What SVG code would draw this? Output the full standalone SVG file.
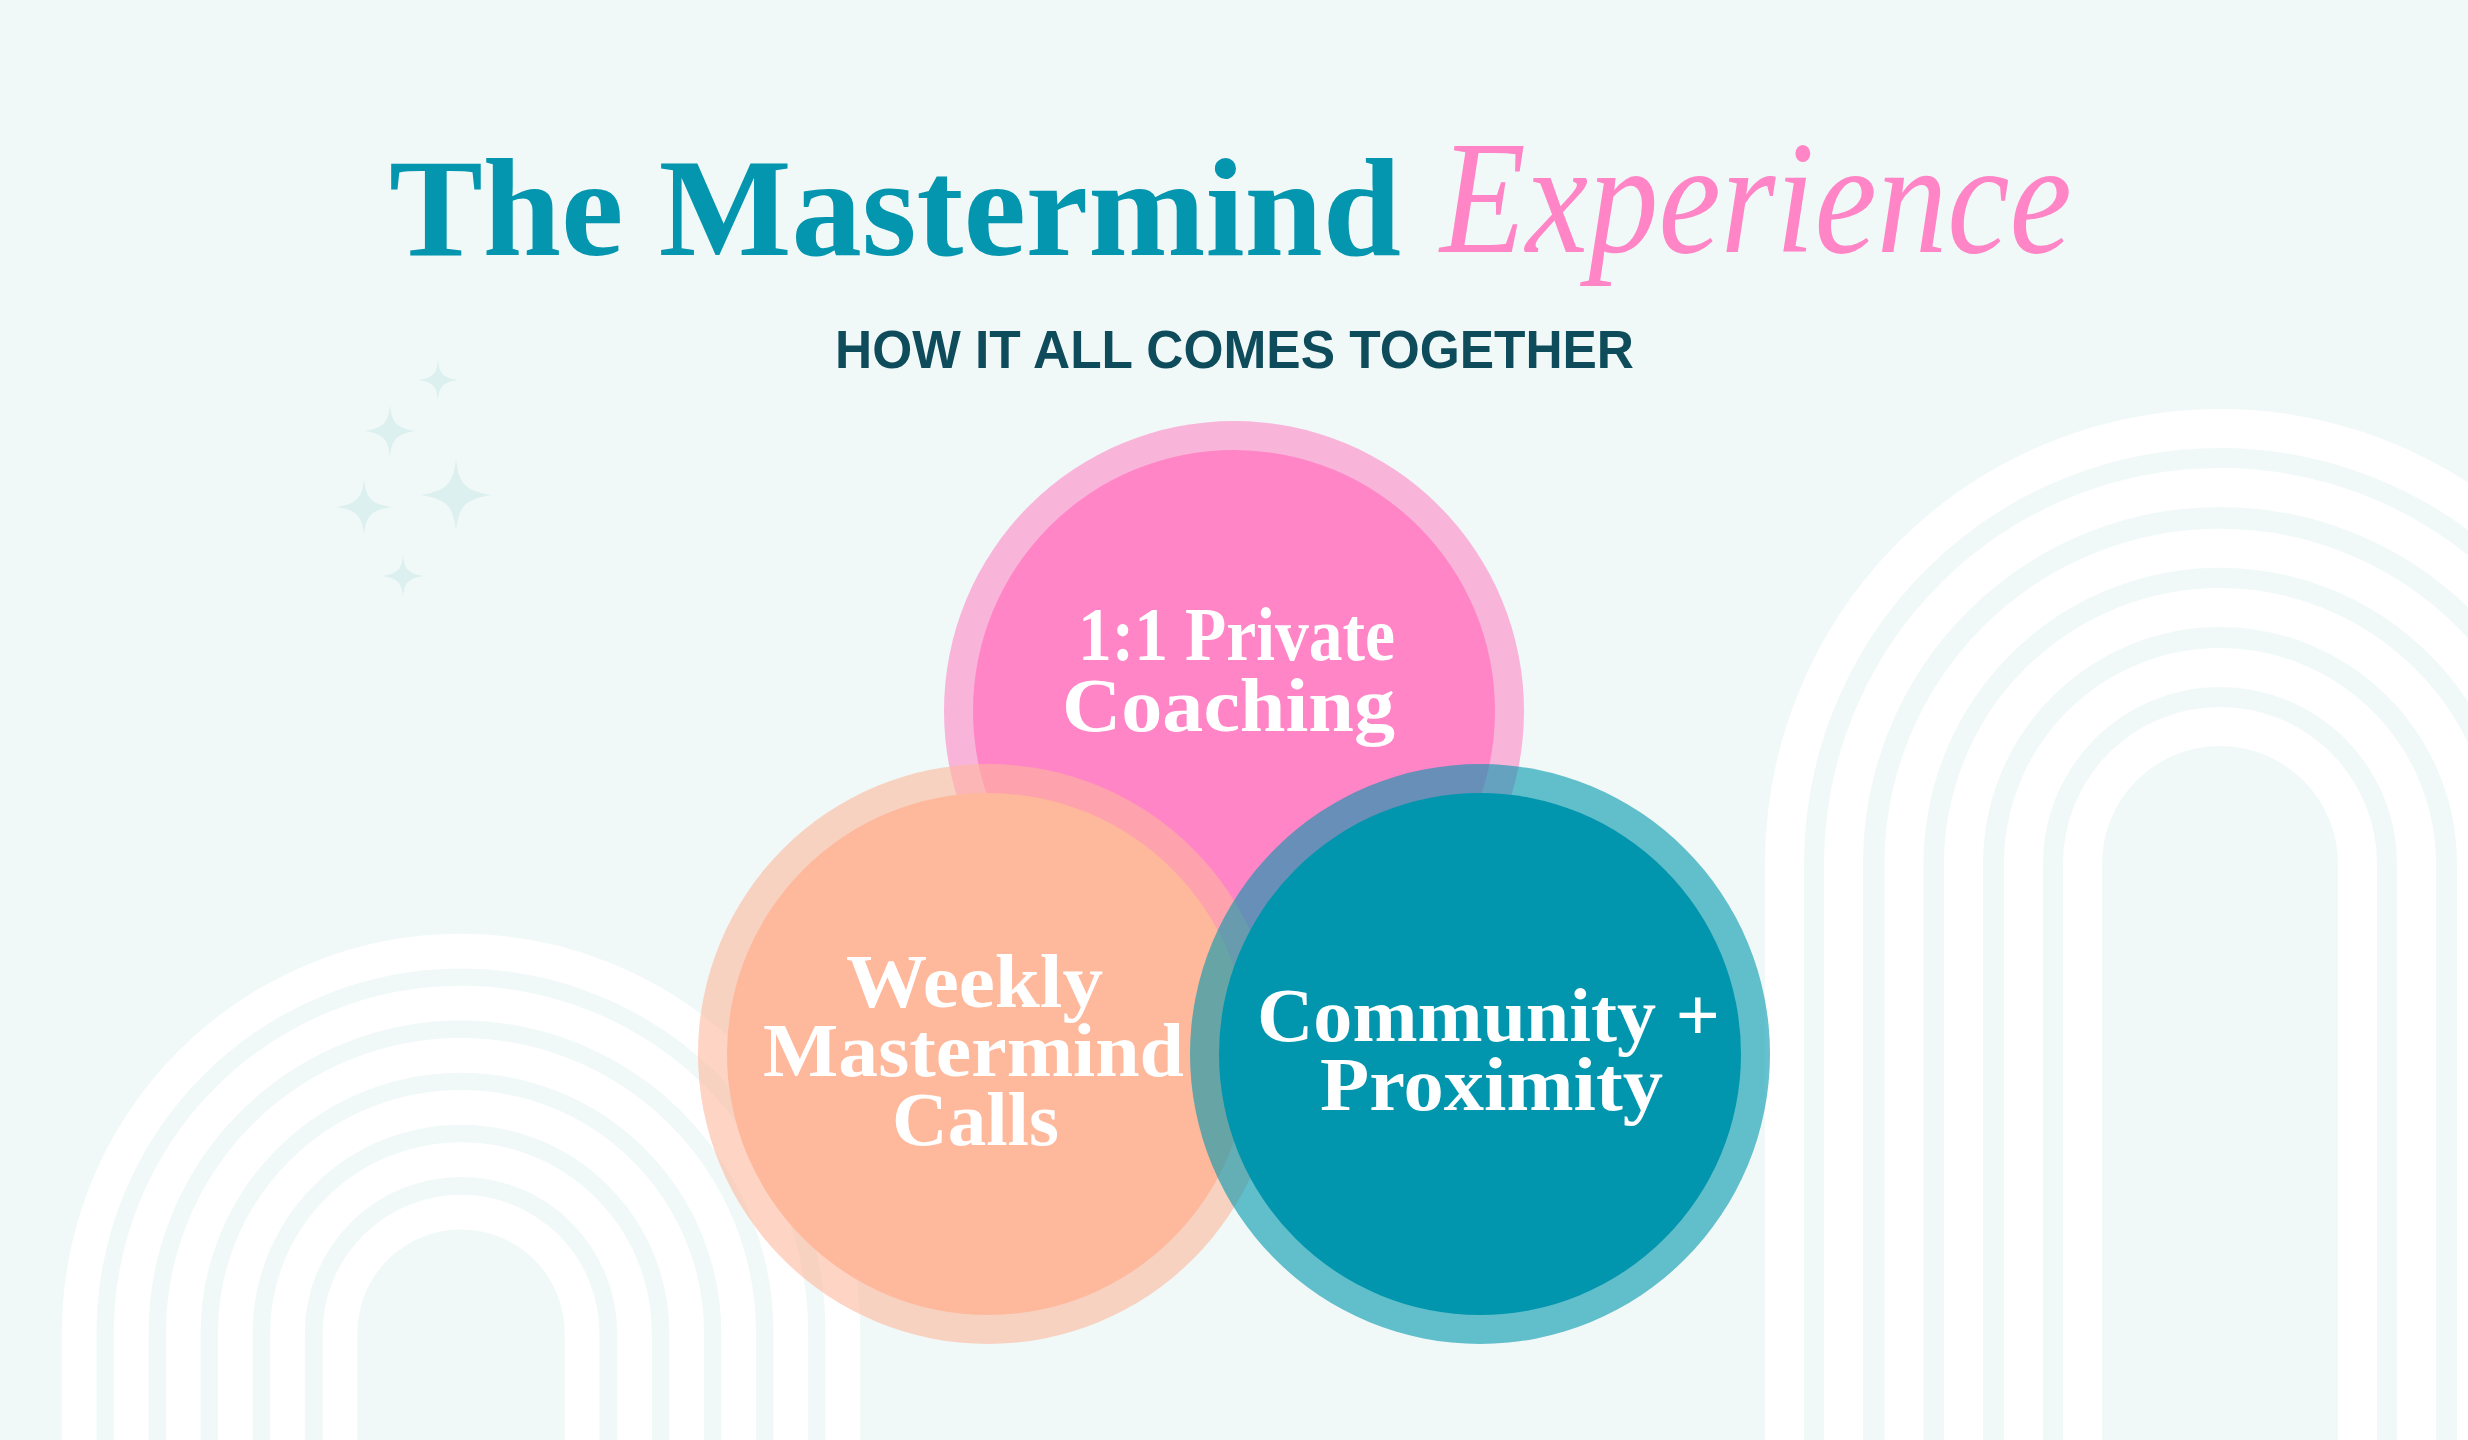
<svg xmlns="http://www.w3.org/2000/svg" xmlns:xlink="http://www.w3.org/1999/xlink" width="2468" height="1440" viewBox="0 0 2468 1440">
<defs>
<style>
.bg{fill:#F1F9F8}
.archR{fill:none;stroke:#FFFFFF;stroke-width:39}
.archL{fill:none;stroke:#FFFFFF;stroke-width:34.7}
.spark{fill:#DCF0EF}
.lbl{font-family:"Liberation Serif",serif;font-weight:700;font-size:76px;fill:#FFFFFF}
.title{font-family:"Liberation Serif",serif;font-weight:700;font-size:140px;fill:#0396AE}
.script{font-family:"Liberation Serif",serif;font-style:italic;font-size:160px;fill:#FF85C6}
.sub{font-family:"Liberation Sans",sans-serif;font-weight:700;font-size:53px;fill:#0E4C5C}
.ring{opacity:0.6}
</style>
<path id="spark" d="M0,-1 C0.08,-0.35 0.2,-0.12 1,0 C0.2,0.12 0.08,0.35 0,1 C-0.08,0.35 -0.2,0.12 -1,0 C-0.2,-0.12 -0.08,-0.35 0,-1Z"/>
</defs>
<rect class="bg" x="0" y="0" width="2468" height="1440"/>
<g id="arches-right">
<path class="archR" d="M2082.5,1440 V864 A137.5,137.5 0 0 1 2357.5,864 V1440"/>
<path class="archR" d="M2023.5,1440 V864 A196.5,196.5 0 0 1 2416.5,864 V1440"/>
<path class="archR" d="M1963.5,1440 V864 A256.5,256.5 0 0 1 2476.5,864 V1440"/>
<path class="archR" d="M1904,1440 V864 A316,316 0 0 1 2536,864 V1440"/>
<path class="archR" d="M1843.5,1440 V864 A376.5,376.5 0 0 1 2596.5,864 V1440"/>
<path class="archR" d="M1784.5,1440 V864 A435.5,435.5 0 0 1 2655.5,864 V1440"/>
</g>
<g id="arches-left">
<path class="archL" d="M340,1440 V1333 A121,121 0 0 1 582,1333 V1440"/>
<path class="archL" d="M287.5,1440 V1333 A173.5,173.5 0 0 1 634.5,1333 V1440"/>
<path class="archL" d="M235.3,1440 V1333 A225.7,225.7 0 0 1 686.7,1333 V1440"/>
<path class="archL" d="M183.3,1440 V1333 A277.7,277.7 0 0 1 738.7,1333 V1440"/>
<path class="archL" d="M131.2,1440 V1333 A329.8,329.8 0 0 1 790.8,1333 V1440"/>
<path class="archL" d="M79.2,1440 V1333 A381.8,381.8 0 0 1 842.8,1333 V1440"/>
</g>
<g id="sparkles">
<use xlink:href="#spark" class="spark" transform="translate(438,380) scale(20)"/>
<use xlink:href="#spark" class="spark" transform="translate(390,431) scale(26)"/>
<use xlink:href="#spark" class="spark" transform="translate(456,495) scale(36)"/>
<use xlink:href="#spark" class="spark" transform="translate(364,507) scale(28)"/>
<use xlink:href="#spark" class="spark" transform="translate(403,576) scale(21)"/>
</g>
<g id="title">
<text class="title" x="389" y="255" textLength="1012" lengthAdjust="spacingAndGlyphs">The Mastermind</text>
<text class="script" x="1440" y="252" textLength="632" lengthAdjust="spacingAndGlyphs">Experience</text>
<text class="sub" x="835" y="368" textLength="799" lengthAdjust="spacingAndGlyphs">HOW IT ALL COMES TOGETHER</text>
</g>
<g id="connectors"></g>
<g id="node-private">
<circle class="ring" cx="1234" cy="711" r="290" fill="#FF85C6"/>
<circle cx="1234" cy="711" r="261" fill="#FF85C6"/>
<text class="lbl" x="1078" y="660" textLength="317" lengthAdjust="spacingAndGlyphs">1:1 Private</text>
<text class="lbl" x="1062" y="731" textLength="333" lengthAdjust="spacingAndGlyphs">Coaching</text>
</g>
<g id="node-weekly">
<circle class="ring" cx="988" cy="1054" r="290" fill="#FEB89C"/>
<circle cx="988" cy="1054" r="261" fill="#FEB89C"/>
<text class="lbl" x="846" y="1007" textLength="257" lengthAdjust="spacingAndGlyphs">Weekly</text>
<text class="lbl" x="763" y="1076" textLength="421" lengthAdjust="spacingAndGlyphs">Mastermind</text>
<text class="lbl" x="892" y="1145" textLength="167" lengthAdjust="spacingAndGlyphs">Calls</text>
</g>
<g id="node-community">
<circle class="ring" cx="1480" cy="1054" r="290" fill="#0296AE"/>
<circle cx="1480" cy="1054" r="261" fill="#0296AE"/>
<text class="lbl" x="1257" y="1041" textLength="463" lengthAdjust="spacingAndGlyphs">Community +</text>
<text class="lbl" x="1320" y="1110" textLength="343" lengthAdjust="spacingAndGlyphs">Proximity</text>
</g>
</svg>
